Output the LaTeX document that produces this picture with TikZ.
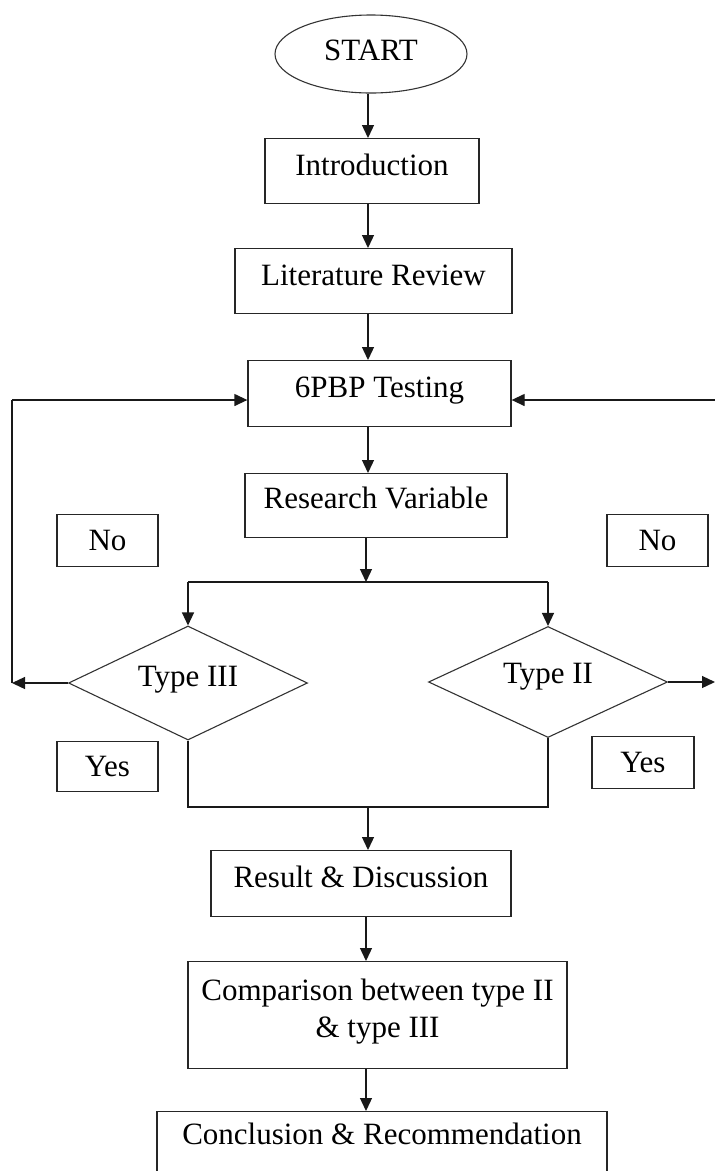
\documentclass[tikz,border=0pt]{standalone}
\usepackage{fontspec}
\setmainfont{Liberation Serif}
\usetikzlibrary{shapes.geometric,arrows.meta}
\begin{document}
\begin{tikzpicture}[x=1pt,y=-1pt,
  every node/.style={font=\fontsize{31}{37}\selectfont, inner sep=0pt},
  stepbox/.style={draw=black!85, line width=1.3pt, rectangle, anchor=north},
  decision/.style={draw=black!80, line width=1.1pt, diamond, minimum width=239pt},
  oval/.style={draw=black!80, line width=1.1pt, ellipse},
  wire/.style={draw=black!90, line width=1.3pt},
  arr/.style={wire, -{Triangle[length=13pt,width=12pt]}}]
\useasboundingbox (0,0) rectangle (715,1171);
\fill[white] (0,0) rectangle (715,1171);
% nodes
\node[oval, minimum width=192pt, minimum height=78pt, text height=12pt, text depth=0pt] (start) at (371,54) {START};
\node[stepbox, minimum width=214pt, text height=37pt, text depth=28pt] (intro) at (372,138) {Introduction};
\node[stepbox, minimum width=277pt, text height=37pt, text depth=28pt] (lit) at (373.5,248) {Literature Review};
\node[stepbox, minimum width=263pt, text height=37pt, text depth=29pt] (test) at (379.5,360) {6PBP Testing};
\node[stepbox, minimum width=262pt, text height=35pt, text depth=29pt] (rv) at (376,473) {Research Variable};
\node[stepbox, minimum width=101pt, text height=36pt, text depth=16pt] (noL) at (107.5,514) {No};
\node[stepbox, minimum width=101pt, text height=36pt, text depth=16pt] (noR) at (657.5,514) {No};
\node[decision, minimum height=114pt, text height=9pt, text depth=3pt] (t3) at (188,683) {Type III};
\node[decision, minimum height=111pt, text height=4pt, text depth=2pt] (t2) at (548,682) {Type II};
\node[stepbox, minimum width=101pt, text height=35pt, text depth=15pt] (yesL) at (107.5,741) {Yes};
\node[stepbox, minimum width=102pt, text height=36pt, text depth=16pt] (yesR) at (643,736) {Yes};
\node[stepbox, minimum width=300pt, text height=37pt, text depth=29pt] (res) at (361,850) {Result \& Discussion};
\node[stepbox, minimum width=379pt, text height=39pt, text depth=68pt] (comp) at (377.5,961)
  {\begin{tabular}[t]{@{}c@{}}Comparison between type II\\ \& type III\end{tabular}};
\node[stepbox, minimum width=450pt, text height=33pt, text depth=80pt] (concl) at (382,1111) {Conclusion \& Recommendation};
% helper coordinates
\coordinate (ax) at (368,0);
\coordinate (bx) at (366,0);
\coordinate (split) at (366,582);
\coordinate (sL) at (188,582);
\coordinate (sR) at (548,582);
\coordinate (cl1) at (12,400);
\coordinate (cl2) at (12,683);
\coordinate (cr1) at (715,400);
\coordinate (cr2) at (715,682);
\coordinate (mL) at (188,807);
\coordinate (mR) at (548,807);
\coordinate (mid) at (368,807);
% connectors
\draw[arr] (start.south -| ax) -- (intro.north -| ax);
\draw[arr] (intro.south -| ax) -- (lit.north -| ax);
\draw[arr] (lit.south -| ax) -- (test.north -| ax);
\draw[arr] (test.south -| ax) -- (rv.north -| ax);
\draw[arr] (rv.south -| bx) -- (split);
\draw[wire] (sL) -- (sR);
\draw[arr] (sL) -- (t3.north);
\draw[arr] (sR) -- (t2.north);
\draw[arr] (t3.west) -- (cl2);
\draw[wire] (cl2) -- (cl1);
\draw[arr] (cl1) -- (cl1 -| test.west);
\draw[arr] (t2.east) -- (cr2);
\draw[arr] (cr1) -- (cr1 -| test.east);
\draw[wire] (t3.south) -- (mL) -- (mR) -- (t2.south);
\draw[arr] (mid) -- (res.north -| mid);
\draw[arr] (res.south -| bx) -- (comp.north -| bx);
\draw[arr] (comp.south -| bx) -- (concl.north -| bx);
\end{tikzpicture}
\end{document}
